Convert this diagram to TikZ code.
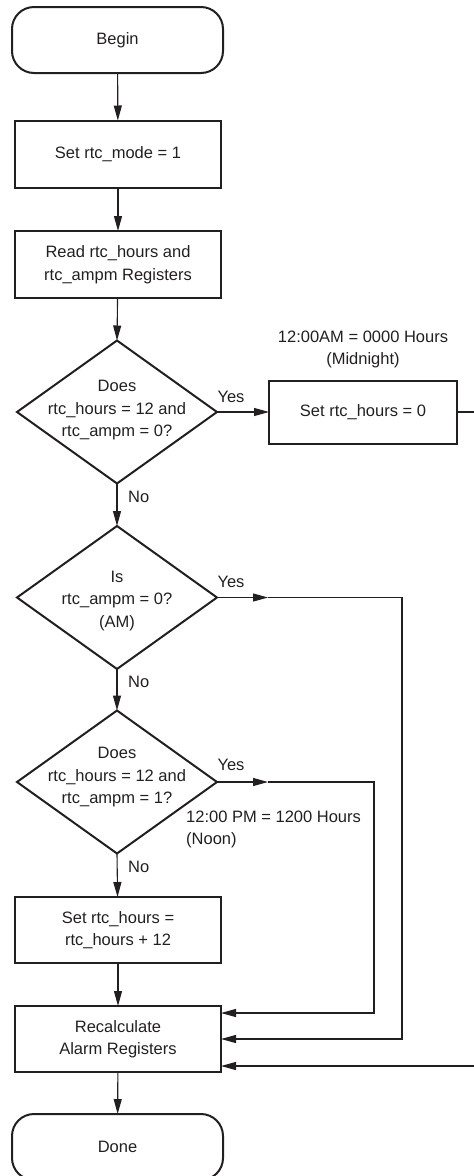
\documentclass[tikz,border=0pt]{standalone}
\usepackage{fontspec}
\setmainfont{Liberation Sans}
\usetikzlibrary{shapes.geometric,arrows.meta}
\definecolor{ink}{RGB}{35,31,32}
\begin{document}
\begin{tikzpicture}[x=1pt,y=-1pt,
  every node/.style={font=\fontsize{16.5}{22.5}\selectfont, text=ink},
  proc/.style={draw=ink, line width=2pt, minimum width=206pt, minimum height=67pt, inner sep=0pt, outer sep=0pt, align=center},
  term/.style={proc, rounded corners=22pt, minimum width=211pt, minimum height=66pt},
  dec/.style={draw=ink, diamond, line width=2pt, minimum width=200pt, minimum height=143pt, inner sep=0pt, outer sep=0pt},
  conn/.style={draw=ink, line width=1.1pt, -{Triangle[length=15pt,width=8pt]}},
  lbl/.style={inner sep=0pt, align=center}
]
\useasboundingbox (0,0) rectangle (474,1176);
\clip (0,0) rectangle (474,1176);

% nodes
\node[term] (begin) at (117.5,40) {Begin};
\node[proc] (s1) at (118,154) {Set rtc\_mode = 1};
\node[proc] (s2) at (118,264.5) {Read rtc\_hours and\\rtc\_ampm Registers};

\node[dec] (d1) at (117,412) {};
\node[lbl] (t1) at (117,410.5) {Does\\rtc\_hours = 12 and\\rtc\_ampm = 0?};
\node[proc, minimum width=188pt, minimum height=63pt] (s0) at (363,412) {Set rtc\_hours = 0};
\node[lbl] (midn) at (363,349.5) {12:00AM = 0000 Hours\\(Midnight)};

\node[dec] (d2) at (117,597.5) {};
\node[lbl] (t2) at (117,601) {Is\\rtc\_ampm = 0?\\(AM)};

\node[dec] (d3) at (117,782) {};
\node[lbl] (t3) at (117,777.5) {Does\\rtc\_hours = 12 and\\rtc\_ampm = 1?};
\node[lbl, anchor=west, align=left] (noon) at (186,829.5) {12:00 PM = 1200 Hours\\(Noon)};

\node[proc, minimum height=66pt] (s3) at (118,930) {Set rtc\_hours =\\rtc\_hours + 12};
\node[proc, minimum height=66pt] (rc) at (118,1039) {Recalculate\\Alarm Registers};
\node[term] (done) at (117.5,1147) {Done};

% labels
\node[lbl] (y1) at (231,397) {Yes};
\node[lbl] (y2) at (231,582) {Yes};
\node[lbl] (y3) at (231,765) {Yes};
\node[lbl, anchor=west] (n1) at (128,497) {No};
\node[lbl, anchor=west] (n2) at (128,682) {No};
\node[lbl, anchor=west] (n3) at (128,867) {No};

% coordinates for connector routing
\coordinate (m2) at (268,597.5);
\coordinate (c2) at (402,597.5);
\coordinate (inB) at (221,1039);
\coordinate (m3) at (268,782);
\coordinate (c3) at (374,782);
\coordinate (inA) at (221,1013);
\coordinate (c0) at (490,412);
\coordinate (inC) at (221,1066);

% connectors
\draw[conn] (begin) -- (s1);
\draw[conn] (s1) -- (s2);
\draw[conn] (s2) -- (d1.north);
\draw[conn] (d1.east) -- (s0.west);
\draw[conn] (s0.east) -- (c0) |- (inC);
\draw[conn] (d1.south) -- (d2.north);
\draw[conn] (d2.east) -- (m2);
\draw[conn] (m2) -- (c2) |- (inB);
\draw[conn] (d2.south) -- (d3.north);
\draw[conn] (d3.east) -- (m3);
\draw[conn] (m3) -- (c3) |- (inA);
\draw[conn] (d3.south) -- (s3);
\draw[conn] (s3) -- (rc);
\draw[conn] (rc) -- (done);
\end{tikzpicture}
\end{document}
